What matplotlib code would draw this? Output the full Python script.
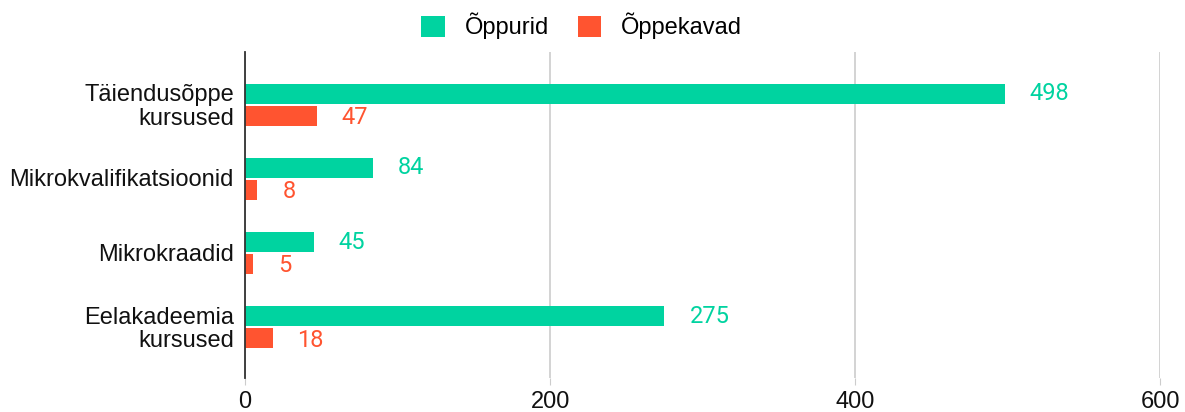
import numpy as np
import matplotlib
matplotlib.use("Agg")
import matplotlib.pyplot as plt

# Andmed
kategooriad = ["Täiendusõppe\nkursused", "Mikrokvalifikatsioonid", "Mikrokraadid", "Eelakadeemia\nkursused"]
oppurid = [498, 84, 45, 275]
oppekavad = [47, 8, 5, 18]
seeria_nimed = ["Õppurid", "Õppekavad"]
x_tikid = [0, 200, 400, 600]

roheline = "#00d3a0"
punane = "#ff5430"

plt.rcParams['font.family'] = ['Liberation Sans', 'DejaVu Sans']

fig = plt.figure(figsize=(11.85, 4.12), dpi=100)
ax = fig.add_axes([0.2068, 0.0825, 0.7722, 0.7915])

y = np.arange(len(kategooriad))
korgus = 0.27
ax.barh(y - 0.135, oppurid, height=korgus, color=roheline, label=seeria_nimed[0], zorder=3)
ax.barh(y + 0.16, oppekavad, height=korgus, color=punane, label=seeria_nimed[1], zorder=3)

# Väärtuste sildid
for i in range(len(kategooriad)):
    ax.annotate(str(oppurid[i]), (oppurid[i], y[i] - 0.135), xytext=(18, 0),
                textcoords="offset points", va="center", ha="left",
                fontsize=17, color=roheline, family=['Roboto', 'DejaVu Sans'])
    ax.annotate(str(oppekavad[i]), (oppekavad[i], y[i] + 0.16), xytext=(18, -1.5),
                textcoords="offset points", va="center", ha="left",
                fontsize=17, color=punane, family=['Roboto', 'DejaVu Sans'])

ax.set_xlim(0, 600)
ax.set_ylim(3.7, -0.7)
ax.set_xticks(x_tikid)
ax.set_xticklabels([str(t) for t in x_tikid], fontsize=17, color="#111111")
ax.set_yticks(y)
ax.set_yticklabels(kategooriad, fontsize=17, color="#111111", linespacing=1.1)
ax.tick_params(axis="y", length=0, pad=8)
ax.tick_params(axis="x", length=5, color="#cccccc", pad=4)

ax.grid(axis="x", color="#cccccc", linewidth=1.2, zorder=0)
for s in ["top", "right", "bottom"]:
    ax.spines[s].set_visible(False)
ax.spines["left"].set_color("#333333")
ax.spines["left"].set_linewidth(1.3)
ax.spines["left"].set_zorder(4)

fig.legend(loc="center", bbox_to_anchor=(0.491, 0.937), ncol=2, frameon=False,
           fontsize=17, handlelength=1.0, handleheight=1.0, columnspacing=1.2,
           handletextpad=0.85)

fig.savefig("out.png", dpi=100)
